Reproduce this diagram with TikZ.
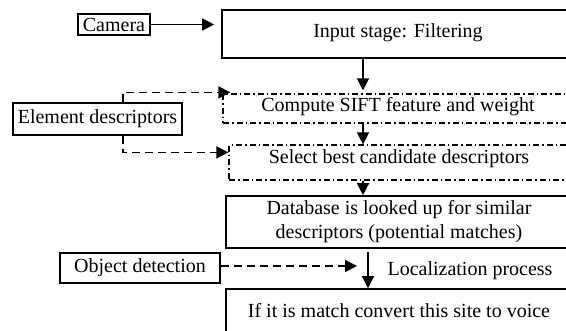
\documentclass[tikz,border=0pt]{standalone}
\usepackage{fontspec}
\setmainfont{Liberation Serif}
\usetikzlibrary{arrows.meta}
\begin{document}
\begin{tikzpicture}[x=1pt,y=-1pt,
  font=\fontsize{20}{24}\selectfont,
  solidbox/.style={draw,line width=1.6pt,inner sep=0pt,align=center},
  dashbox/.style={draw,line width=1.2pt,inner sep=0pt,align=center,
    dash pattern=on 6pt off 3pt on 1.5pt off 3pt},
  arr/.style={line width=1.4pt,-{Triangle[length=12pt,width=12pt]}},
  darr/.style={arr,dash pattern=on 8pt off 5pt}]
\useasboundingbox (0,0) rectangle (566,330);
\clip (0,0) rectangle (566,330);
\fill[white] (0,0) rectangle (566,330);
% coordinates for connector columns
\coordinate (ax) at (363,0);
\coordinate (bx) at (368,0);
\coordinate (ex) at (123,0);
% nodes
\node[solidbox,minimum width=72pt,minimum height=21pt] (cam) at (114,24.5) {Camera};
\node[solidbox,minimum width=352pt,minimum height=48pt,text depth=7pt] (inp) at (398,34) {Input stage: Filtering};
\node[dashbox,minimum width=350pt,minimum height=29pt,text depth=8pt] (comp) at (398,108.5) {Compute SIFT feature and weight};
\node[dashbox,minimum width=340pt,minimum height=35pt,text depth=12pt] (sel) at (399,162.5) {Select best candidate descriptors};
\node[solidbox,minimum width=346pt,minimum height=52pt] (db) at (399,222) {Database is looked up for similar\\descriptors (potential matches)};
\node[anchor=base] (loc) at (470,275) {Localization process};
\node[solidbox,minimum width=346pt,minimum height=43pt] (ifb) at (399,310.5) {If it is match convert this site to voice};
\node[solidbox,minimum width=160pt,minimum height=30pt] (obj) at (140,268) {Object detection};
\node[solidbox,minimum width=169pt,minimum height=32pt] (elem) at (97.5,119) {Element descriptors};
\coordinate (objend) at (357,266);
% connectors
\draw[arr,shorten >=7pt] (cam.east) -- (cam.east -| inp.west);
\draw[arr,shorten >=3pt] (inp.south -| ax) -- (comp.north -| ax);
\draw[arr] (comp.south -| ax) -- (sel.north -| ax);
\draw[arr] (sel.south -| ax) -- (db.north -| ax);
\draw[arr,shorten <=3pt] (db.south -| bx) -- (ifb.north -| bx);
\draw[darr] ([yshift=2pt]obj.east) -- (objend);
\draw[darr,shorten >=-8pt] (elem.north -| ex) |- ([yshift=1pt]comp.north west);
\draw[darr] (elem.south -| ex) |- ([yshift=-8pt]sel.north west);
\end{tikzpicture}
\end{document}
